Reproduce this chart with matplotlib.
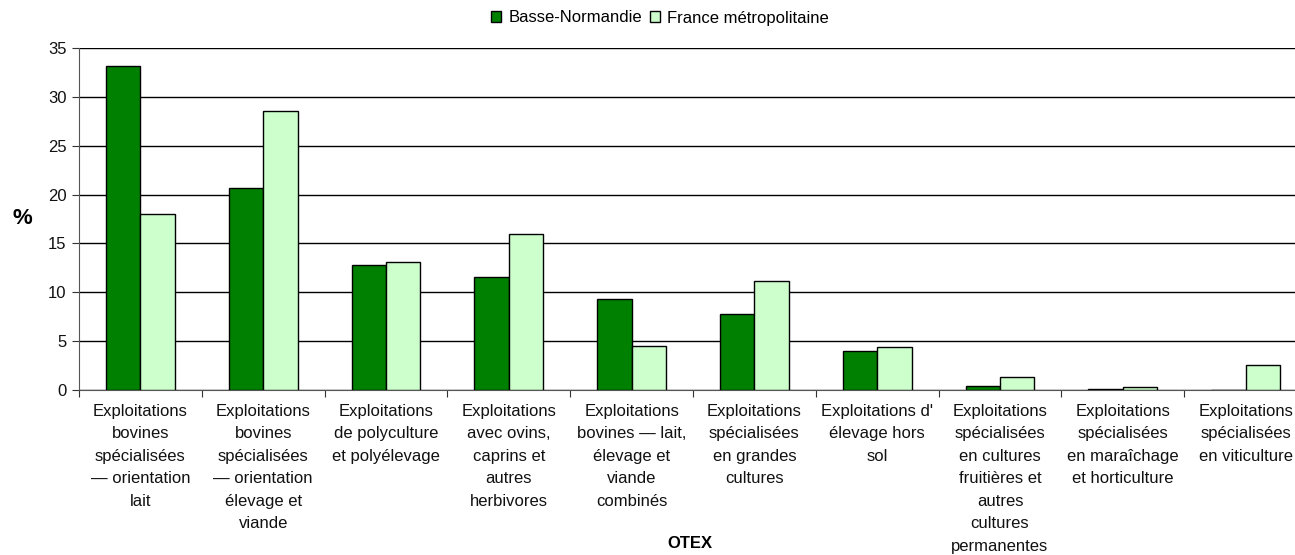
import numpy as np
import matplotlib.pyplot as plt

plt.rcParams['font.family'] = ['Liberation Sans', 'DejaVu Sans']

categories = [
    "Exploitations\nbovines\nspécialisées\n— orientation\nlait",
    "Exploitations\nbovines\nspécialisées\n— orientation\nélevage et\nviande",
    "Exploitations\nde polyculture\net polyélevage",
    "Exploitations\navec ovins,\ncaprins et\nautres\nherbivores",
    "Exploitations\nbovines — lait,\nélevage et\nviande\ncombinés",
    "Exploitations\nspécialisées\nen grandes\ncultures",
    "Exploitations d'\nélevage hors\nsol",
    "Exploitations\nspécialisées\nen cultures\nfruitières et\nautres\ncultures\npermanentes",
    "Exploitations\nspécialisées\nen maraîchage\net horticulture",
    "Exploitations\nspécialisées\nen viticulture",
]
basse_normandie = [33.2, 20.7, 12.8, 11.6, 9.3, 7.8, 4.0, 0.4, 0.15, 0.0]
france_metro = [18.0, 28.6, 13.1, 16.0, 4.5, 11.2, 4.4, 1.3, 0.3, 2.6]

fig = plt.figure(figsize=(12.95, 5.55), dpi=100)
# axes extends past the right edge like the original (clipped)
ax = fig.add_axes([79 / 1295, 1 - 390 / 555, 1228 / 1295, 342 / 555])

x = np.arange(len(categories))
w = 0.28
ax.bar(x - w / 2, basse_normandie, w, color='#008000', edgecolor='black',
       linewidth=1, label='Basse-Normandie', zorder=3)
ax.bar(x + w / 2, france_metro, w, color='#CCFFCC', edgecolor='black',
       linewidth=1, label='France métropolitaine', zorder=3)

ax.set_xlim(-0.5, len(categories) - 0.5)
ax.set_ylim(0, 35)
ax.set_yticks(np.arange(0, 36, 5))
ax.yaxis.grid(True, color='black', linewidth=1, zorder=0)

for s in ['top', 'right']:
    ax.spines[s].set_visible(False)
ax.spines['left'].set_color('#555555')
ax.spines['bottom'].set_color('#555555')

ax.set_xticks(np.arange(len(categories) + 1) - 0.5)
ax.set_xticklabels([])
ax.tick_params(axis='x', which='major', length=5, color='#333333')
ax.set_xticks(x, minor=True)
ax.set_xticklabels(categories, minor=True, fontsize=12, linespacing=1.62,
                   color='#111111', va='top')
ax.tick_params(axis='x', which='minor', length=0, pad=10)
ax.tick_params(axis='y', length=5, pad=4, labelsize=12, labelcolor='#111111',
               color='#333333')

fig.text(22 / 1295, 1 - 218 / 555, '%', fontsize=16, fontweight='bold',
         ha='center', va='center')
fig.text(690 / 1295, 1 - 543 / 555, 'OTEX', fontsize=12, fontweight='bold',
         ha='center', va='center')

fig.legend(loc='center', bbox_to_anchor=(660 / 1295, 1 - 18 / 555), ncol=2,
           frameon=False, fontsize=12, handlelength=0.6, handleheight=0.6,
           handletextpad=0.4, columnspacing=0.5)

fig.savefig('out.png', dpi=100)
